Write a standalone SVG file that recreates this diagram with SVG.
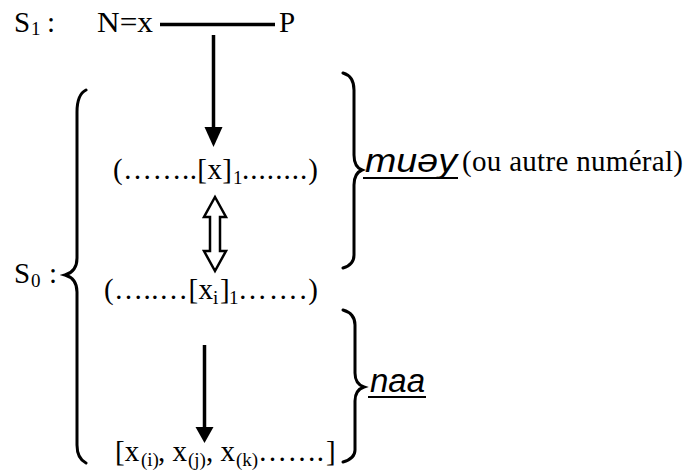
<svg xmlns="http://www.w3.org/2000/svg" width="687" height="472" viewBox="0 0 687 472">
<style>
.t{font-family:"Liberation Serif","Times New Roman",serif;font-size:29px;fill:#000}
.s{font-family:"Liberation Serif","Times New Roman",serif;font-size:19px;fill:#000}
.it{font-family:"Liberation Sans",Arial,"DejaVu Sans",sans-serif;font-style:italic;font-size:33px;fill:#000}
.ln{stroke:#000;stroke-width:3.5;fill:none}
.br{stroke:#000;stroke-width:3;fill:none;stroke-linecap:round}
.hd{fill:#000}
.ul{stroke:#000;stroke-width:2}
</style>
<rect width="687" height="472" fill="#fff"/>
<g id="s1">
<text class="t" x="14" y="32">S</text><text class="s" x="31" y="35">1</text><text class="t" x="47" y="32">:</text>
</g>
<g id="nx"><text class="t" x="97" y="32" textLength="56" lengthAdjust="spacingAndGlyphs">N=x</text></g>
<g id="p"><text class="t" x="279" y="32">P</text></g>
<g id="row2">
<text class="t" x="113" y="179" textLength="119">(……..[x]</text>
<text class="s" x="233" y="184">1</text>
<text class="t" x="242" y="179" textLength="76">........)</text>
</g>
<g id="row3">
<text class="t" x="104" y="299" textLength="109">(…..…[x</text>
<text class="s" x="213" y="304">i</text>
<text class="t" x="220" y="299">]</text>
<text class="s" x="229" y="304">1</text>
<text class="t" x="238" y="299" textLength="80">…….)</text>
</g>
<g id="row4">
<text class="t" x="115" y="461">[x</text>
<text class="s" x="141" y="466">(i)</text>
<text class="t" x="158" y="461">, x</text>
<text class="s" x="188" y="466">(j)</text>
<text class="t" x="206" y="461">, x</text>
<text class="s" x="236" y="466">(k)</text>
<text class="t" x="258" y="461" textLength="66">…….</text>
<text class="t" x="326" y="461">]</text>
</g>
<g id="s0">
<text class="t" x="14" y="283">S</text><text class="s" x="31" y="287">0</text><text class="t" x="49" y="283">:</text>
</g>
<g id="muay">
<text class="it" x="365" y="172" textLength="92" lengthAdjust="spacingAndGlyphs">muəy</text>
<line class="ul" x1="363" y1="178" x2="458" y2="178"/>
<text class="t" x="462" y="171" textLength="221">(ou autre numéral)</text>
</g>
<g id="naa">
<text class="it" x="370" y="392">naa</text>
<line class="ul" x1="368" y1="397" x2="426" y2="397"/>
</g>
<g id="connectors">
<line class="ln" x1="160" y1="24.5" x2="275" y2="24.5"/>
<line class="ln" x1="213.5" y1="35" x2="213.5" y2="130"/>
<polygon class="hd" points="204.5,127 222.5,127 213.5,147"/>
<polygon points="215,197 226,217 220,217 220,251 226,251 215,271 204,251 210,251 210,217 204,217" fill="#fff" stroke="#000" stroke-width="2.5" stroke-linejoin="miter"/>
<line class="ln" x1="204.5" y1="345" x2="204.5" y2="430"/>
<polygon class="hd" points="195.5,427 213.5,427 204.5,443"/>
<path class="br" d="M86,90 C80,93 77,100 77,112 L77,258 C77,268 72,273 65,275 C72,277 77,282 77,292 L77,445 C77,455 80,460 86,463"/>
<path class="br" d="M343,73 C350,75 354,80 354,90 L354,155 C354,163 357,168 362,170 C357,172 354,177 354,185 L354,255 C354,262 350,266 343,268"/>
<path class="br" d="M343,310 C350,312 355,317 355,325 L355,373 C355,381 358,385 364,387 C358,389 355,393 355,401 L355,450 C355,456 350,460 343,462"/>
</g>
</svg>
